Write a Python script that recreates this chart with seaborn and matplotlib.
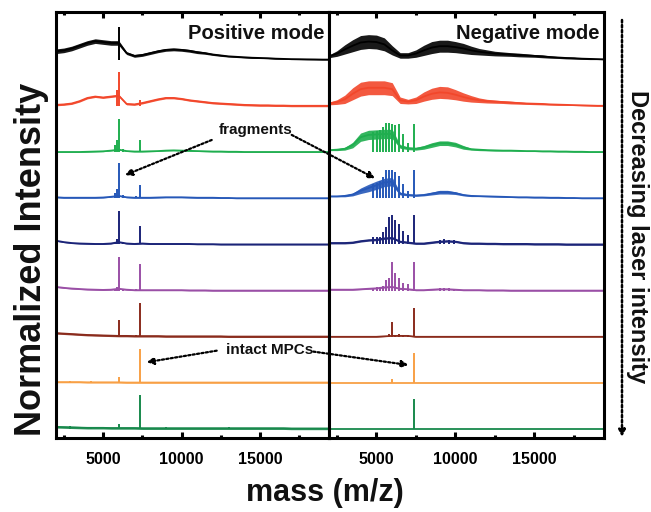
import numpy as np
import pandas as pd
import matplotlib
matplotlib.use("Agg")
import matplotlib.pyplot as plt
import seaborn as sns
from matplotlib.patches import ConnectionPatch
from matplotlib.ticker import FixedLocator

sns.set_theme(style="white")
plt.rcParams["font.family"] = ["Liberation Sans", "DejaVu Sans"]
plt.rcParams["font.weight"] = "bold"

# ---------------------------------------------------------------------------
# Spectra, top (highest laser intensity) to bottom (lowest laser intensity)
# ---------------------------------------------------------------------------
TRACES = ["L9", "L8", "L7", "L6", "L5", "L4", "L3", "L2", "L1"]
COLORS = ["#000000", "#f2472b", "#1fae4f", "#2658b8", "#1b2478",
          "#9a4fa6", "#8a2b1c", "#f8a045", "#18894c"]

# m/z sampling of the smooth background envelopes
MASS_GRID = [2000, 2500, 3000, 3500, 4000, 4500, 5000, 5500, 6000, 6500,
             7000, 7500, 8000, 8500, 9000, 9500, 10000, 10500, 11000, 11500,
             12000, 12500, 13000, 13500, 14000, 14500, 15000, 15500, 16000,
             16500, 17000, 17500, 18000, 18500, 19000, 19500]

# ---- positive mode: background envelopes ----
POS_L9 = [0.18, 0.20, 0.24, 0.30, 0.36, 0.40, 0.38, 0.36, 0.36, 0.14, 0.08, 0.10,
          0.14, 0.18, 0.21, 0.22, 0.21, 0.19, 0.16, 0.14, 0.11, 0.09, 0.07, 0.06,
          0.05, 0.04, 0.035, 0.03, 0.02, 0.015, 0.01, 0.008, 0.005, 0.003, 0.0, 0.0]
POS_L8 = [0.02, 0.03, 0.05, 0.10, 0.17, 0.20, 0.18, 0.20, 0.22, 0.04, 0.03, 0.06,
          0.10, 0.14, 0.17, 0.17, 0.15, 0.12, 0.10, 0.08, 0.06, 0.05, 0.04, 0.03,
          0.02, 0.015, 0.01, 0.01, 0.005, 0.005, 0.0, 0.0, 0.0, 0.0, 0.0, 0.0]
POS_L7 = [0.0, 0.0, 0.0, 0.0, 0.005, 0.01, 0.015, 0.03, 0.05, 0.02, 0.01, 0.01,
          0.015, 0.02, 0.03, 0.035, 0.03, 0.025, 0.02, 0.015, 0.01, 0.01, 0.005, 0.005,
          0.0, 0.0, 0.0, 0.0, 0.0, 0.0, 0.0, 0.0, 0.0, 0.0, 0.0, 0.0]
POS_L6 = [0.02, 0.01, 0.01, 0.01, 0.01, 0.01, 0.015, 0.03, 0.05, 0.02, 0.01, 0.01,
          0.01, 0.015, 0.02, 0.02, 0.02, 0.015, 0.01, 0.01, 0.01, 0.005, 0.005, 0.0,
          0.0, 0.0, 0.0, 0.0, 0.0, 0.0, 0.0, 0.0, 0.0, 0.0, 0.0, 0.0]
POS_L5 = [0.08, 0.05, 0.03, 0.02, 0.015, 0.01, 0.01, 0.02, 0.05, 0.02, 0.01, 0.02,
          0.01, 0.01, 0.01, 0.01, 0.01, 0.01, 0.005, 0.005, 0.005, 0.0, 0.0, 0.0,
          0.0, 0.0, 0.0, 0.0, 0.0, 0.0, 0.0, 0.0, 0.0, 0.0, 0.0, 0.0]
POS_L4 = [0.08, 0.06, 0.045, 0.035, 0.025, 0.02, 0.015, 0.02, 0.04, 0.02, 0.01, 0.01,
          0.01, 0.01, 0.01, 0.01, 0.01, 0.005, 0.005, 0.005, 0.0, 0.0, 0.0, 0.0,
          0.0, 0.0, 0.0, 0.0, 0.0, 0.0, 0.0, 0.0, 0.0, 0.0, 0.0, 0.0]
POS_L3 = [0.08, 0.07, 0.06, 0.05, 0.04, 0.035, 0.03, 0.025, 0.02, 0.02, 0.015, 0.015,
          0.015, 0.015, 0.01, 0.01, 0.01, 0.01, 0.01, 0.01, 0.01, 0.01, 0.005, 0.005,
          0.005, 0.005, 0.005, 0.005, 0.005, 0.005, 0.005, 0.005, 0.005, 0.005, 0.005, 0.005]
POS_L2 = [0.02, 0.02, 0.02, 0.02, 0.015, 0.015, 0.015, 0.015, 0.015, 0.01, 0.01, 0.01,
          0.01, 0.01, 0.01, 0.01, 0.01, 0.01, 0.01, 0.01, 0.01, 0.01, 0.01, 0.01,
          0.01, 0.01, 0.01, 0.01, 0.01, 0.01, 0.01, 0.01, 0.01, 0.01, 0.01, 0.01]
POS_L1 = [0.05, 0.045, 0.04, 0.035, 0.03, 0.03, 0.03, 0.025, 0.025, 0.025, 0.025, 0.02,
          0.02, 0.02, 0.02, 0.02, 0.02, 0.02, 0.02, 0.02, 0.02, 0.02, 0.02, 0.02,
          0.02, 0.02, 0.02, 0.02, 0.02, 0.02, 0.015, 0.015, 0.015, 0.015, 0.015, 0.015]

# ---- negative mode: background envelopes ----
NEG_L9 = [0.07, 0.13, 0.22, 0.30, 0.37, 0.39, 0.38, 0.33, 0.20, 0.09, 0.09, 0.13,
          0.20, 0.26, 0.29, 0.29, 0.27, 0.24, 0.20, 0.17, 0.15, 0.13, 0.12, 0.11,
          0.10, 0.09, 0.08, 0.07, 0.055, 0.045, 0.035, 0.03, 0.02, 0.015, 0.01, 0.005]
NEG_L8 = [0.05, 0.08, 0.14, 0.26, 0.36, 0.39, 0.39, 0.39, 0.36, 0.12, 0.09, 0.12,
          0.20, 0.26, 0.29, 0.28, 0.24, 0.19, 0.15, 0.12, 0.10, 0.09, 0.08, 0.07,
          0.06, 0.05, 0.045, 0.04, 0.03, 0.025, 0.02, 0.015, 0.01, 0.005, 0.0, 0.0]
NEG_L7 = [0.04, 0.05, 0.07, 0.15, 0.32, 0.37, 0.38, 0.39, 0.39, 0.12, 0.08, 0.07,
          0.10, 0.15, 0.19, 0.19, 0.16, 0.10, 0.06, 0.05, 0.04, 0.035, 0.03, 0.03,
          0.025, 0.02, 0.02, 0.015, 0.015, 0.01, 0.01, 0.005, 0.005, 0.0, 0.0, 0.0]
NEG_L6 = [0.04, 0.04, 0.05, 0.08, 0.16, 0.22, 0.28, 0.34, 0.36, 0.10, 0.07, 0.06,
          0.07, 0.10, 0.13, 0.13, 0.11, 0.07, 0.05, 0.045, 0.04, 0.035, 0.03, 0.025,
          0.02, 0.02, 0.015, 0.015, 0.01, 0.01, 0.005, 0.005, 0.0, 0.0, 0.0, 0.0]
NEG_L5 = [0.03, 0.03, 0.03, 0.04, 0.07, 0.09, 0.10, 0.13, 0.14, 0.06, 0.04, 0.02,
          0.02, 0.04, 0.06, 0.07, 0.06, 0.03, 0.02, 0.02, 0.015, 0.015, 0.01, 0.01,
          0.01, 0.01, 0.005, 0.005, 0.005, 0.005, 0.0, 0.0, 0.0, 0.0, 0.0, 0.0]
NEG_L4 = [0.02, 0.02, 0.02, 0.02, 0.03, 0.04, 0.05, 0.07, 0.08, 0.04, 0.03, 0.01,
          0.01, 0.02, 0.03, 0.03, 0.02, 0.01, 0.01, 0.01, 0.005, 0.005, 0.005, 0.0,
          0.0, 0.0, 0.0, 0.0, 0.0, 0.0, 0.0, 0.0, 0.0, 0.0, 0.0, 0.0]
NEG_L3 = [0.0, 0.0, 0.0, 0.0, 0.0, 0.0, 0.0, 0.01, 0.02, 0.02, 0.02, 0.0,
          0.0, 0.0, 0.0, 0.0, 0.0, 0.0, 0.0, 0.0, 0.0, 0.0, 0.0, 0.0,
          0.0, 0.0, 0.0, 0.0, 0.0, 0.0, 0.0, 0.0, 0.0, 0.0, 0.0, 0.0]
NEG_L2 = [0.0] * len(MASS_GRID)
NEG_L1 = [0.0] * len(MASS_GRID)

# ---- half-width of the unresolved ripple band around each envelope ----
POS_L9_BAND = [0.05, 0.05, 0.05, 0.05, 0.05, 0.05, 0.05, 0.05, 0.05, 0.03, 0.03, 0.03,
               0.03, 0.03, 0.03, 0.03, 0.03, 0.03, 0.03, 0.025, 0.02, 0.02, 0.015, 0.015,
               0.015, 0.015, 0.012, 0.012, 0.012, 0.01, 0.01, 0.01, 0.01, 0.01, 0.01, 0.01]
NEG_L9_BAND = [0.03, 0.06, 0.10, 0.13, 0.15, 0.15, 0.15, 0.14, 0.10, 0.06, 0.06, 0.08,
               0.11, 0.13, 0.13, 0.13, 0.12, 0.11, 0.09, 0.07, 0.06, 0.05, 0.045, 0.04,
               0.04, 0.035, 0.03, 0.03, 0.025, 0.02, 0.02, 0.02, 0.015, 0.015, 0.01, 0.01]
NEG_L8_BAND = [0.03, 0.05, 0.09, 0.13, 0.15, 0.15, 0.15, 0.15, 0.14, 0.07, 0.05, 0.07,
               0.10, 0.12, 0.13, 0.13, 0.11, 0.09, 0.07, 0.05, 0.04, 0.035, 0.03, 0.03,
               0.025, 0.02, 0.02, 0.02, 0.015, 0.015, 0.01, 0.01, 0.01, 0.01, 0.01, 0.01]
NEG_L7_BAND = [0.01, 0.02, 0.03, 0.06, 0.09, 0.10, 0.10, 0.10, 0.10, 0.04, 0.03, 0.03,
               0.04, 0.05, 0.05, 0.05, 0.05, 0.04, 0.02, 0.02, 0.015, 0.015, 0.01, 0.01,
               0.01, 0.01, 0.01, 0.01, 0.01, 0.01, 0.01, 0.01, 0.01, 0.01, 0.01, 0.01]
NEG_L6_BAND = [0.01, 0.01, 0.02, 0.03, 0.06, 0.08, 0.09, 0.09, 0.09, 0.03, 0.02, 0.02,
               0.02, 0.03, 0.04, 0.04, 0.03, 0.02, 0.015, 0.01, 0.01, 0.01, 0.01, 0.01,
               0.01, 0.01, 0.01, 0.01, 0.01, 0.01, 0.01, 0.01, 0.01, 0.01, 0.01, 0.01]
POS_BAND_OTHER = [0.0, 0.02, 0.008, 0.01, 0.012, 0.012, 0.02, 0.015, 0.025]
NEG_BAND_OTHER = [0.0, 0.0, 0.0, 0.0, 0.02, 0.012, 0.005, 0.0, 0.0]

# ---- sharp peaks (fragments and intact clusters) ----
POS_PEAK_MZ = [2900, 4200, 5750, 5880, 6030, 6300, 7100, 7370, 9000, 13000]
POS_PEAK_L9 = [0, 0, 0, 0, 0.71, 0, 0, 0, 0, 0]
POS_PEAK_L8 = [0, 0, 0, 0.35, 0.74, 0, 0, 0.13, 0, 0]
POS_PEAK_L7 = [0, 0, 0.15, 0.25, 0.72, 0.06, 0, 0.25, 0, 0]
POS_PEAK_L6 = [0, 0, 0.12, 0.20, 0.76, 0.06, 0.04, 0.28, 0, 0]
POS_PEAK_L5 = [0, 0, 0.06, 0.12, 0.73, 0.05, 0.04, 0.40, 0, 0]
POS_PEAK_L4 = [0, 0, 0.04, 0.08, 0.73, 0.03, 0.03, 0.57, 0, 0]
POS_PEAK_L3 = [0, 0, 0, 0.03, 0.37, 0, 0.03, 0.73, 0, 0]
POS_PEAK_L2 = [0.04, 0.04, 0, 0, 0.14, 0, 0, 0.73, 0.03, 0.03]
POS_PEAK_L1 = [0.06, 0.05, 0, 0, 0.12, 0, 0, 0.73, 0.04, 0.04]

NEG_PEAK_MZ = [4800, 5030, 5230, 5430, 5630, 5820, 6000, 6200, 6440, 6710, 6980, 7370,
               9000, 9300, 9600, 9900]
NEG_PEAK_L9 = [0] * 16
NEG_PEAK_L8 = [0] * 16
NEG_PEAK_L7 = [0.43, 0.45, 0.47, 0.55, 0.62, 0.63, 0.60, 0.58, 0.60, 0.38, 0.20, 0.61,
               0, 0, 0, 0]
NEG_PEAK_L6 = [0.30, 0.33, 0.38, 0.45, 0.60, 0.62, 0.60, 0.56, 0.49, 0.31, 0.15, 0.61,
               0, 0, 0, 0]
NEG_PEAK_L5 = [0.15, 0.15, 0.17, 0.27, 0.38, 0.59, 0.63, 0.52, 0.45, 0.28, 0.20, 0.63,
               0.10, 0.11, 0.10, 0.09]
NEG_PEAK_L4 = [0.05, 0.07, 0.08, 0.10, 0.23, 0.28, 0.63, 0.39, 0.27, 0.16, 0.14, 0.63,
               0.05, 0.05, 0.05, 0.04]
NEG_PEAK_L3 = [0, 0, 0, 0, 0, 0.06, 0.31, 0.05, 0.06, 0.05, 0.05, 0.63, 0, 0, 0, 0]
NEG_PEAK_L2 = [0, 0, 0, 0, 0, 0, 0.08, 0, 0, 0, 0, 0.65, 0, 0, 0, 0]
NEG_PEAK_L1 = [0, 0, 0, 0, 0, 0, 0, 0, 0, 0, 0, 0.65, 0, 0, 0, 0]

POS_ENV = [POS_L9, POS_L8, POS_L7, POS_L6, POS_L5, POS_L4, POS_L3, POS_L2, POS_L1]
NEG_ENV = [NEG_L9, NEG_L8, NEG_L7, NEG_L6, NEG_L5, NEG_L4, NEG_L3, NEG_L2, NEG_L1]
POS_PEAKS = [POS_PEAK_L9, POS_PEAK_L8, POS_PEAK_L7, POS_PEAK_L6, POS_PEAK_L5,
             POS_PEAK_L4, POS_PEAK_L3, POS_PEAK_L2, POS_PEAK_L1]
NEG_PEAKS = [NEG_PEAK_L9, NEG_PEAK_L8, NEG_PEAK_L7, NEG_PEAK_L6, NEG_PEAK_L5,
             NEG_PEAK_L4, NEG_PEAK_L3, NEG_PEAK_L2, NEG_PEAK_L1]
POS_BANDS = {0: POS_L9_BAND}
NEG_BANDS = {0: NEG_L9_BAND, 1: NEG_L8_BAND, 2: NEG_L7_BAND, 3: NEG_L6_BAND}

X_TICKS = [5000, 10000, 15000]
X_MINOR = [2500, 7500, 12500, 17500]
X_LIM = (2000, 19400)
Y_LIM = (-0.19, 9.03)
LW = 1.3

# long table: one row per envelope sample, stacked with a unit offset per trace
rows = []
for mode, envs in (("Positive", POS_ENV), ("Negative", NEG_ENV)):
    for i, (name, env) in enumerate(zip(TRACES, envs)):
        off = len(TRACES) - 1 - i
        for m, v in zip(MASS_GRID, env):
            rows.append({"mode": mode, "trace": name, "mass": m,
                         "intensity": v, "y": v + off})
df = pd.DataFrame(rows)
palette = dict(zip(TRACES, COLORS))

fig = plt.figure(figsize=(6.51, 5.12), dpi=100)
W, H = 651, 512
ax1 = fig.add_axes([56 / W, 74 / H, 273 / W, 426 / H])
ax2 = fig.add_axes([329 / W, 74 / H, 275 / W, 426 / H])

panels = [(ax1, "Positive", POS_PEAK_MZ, POS_PEAKS, POS_BANDS, POS_BAND_OTHER, "Positive mode"),
          (ax2, "Negative", NEG_PEAK_MZ, NEG_PEAKS, NEG_BANDS, NEG_BAND_OTHER, "Negative mode")]

for ax, mode, pk_mz, pk_list, bands, band_other, title in panels:
    sub = df[df["mode"] == mode]
    # ripple bands behind each envelope
    for i, name in enumerate(TRACES):
        off = len(TRACES) - 1 - i
        env = np.asarray(sub[sub["trace"] == name]["intensity"])
        band = np.asarray(bands[i]) if i in bands else np.full(len(env), band_other[i])
        if band.max() > 0:
            ax.fill_between(MASS_GRID, off + env - band, off + env + band,
                            color=COLORS[i], lw=0, alpha=0.9)
    sns.lineplot(data=sub, x="mass", y="y", hue="trace", palette=palette,
                 estimator=None, legend=False, lw=LW, ax=ax)
    # sharp peaks
    for i, heights in enumerate(pk_list):
        off = len(TRACES) - 1 - i
        mz = [m for m, h in zip(pk_mz, heights) if h > 0]
        hh = [h for h in heights if h > 0]
        if mz:
            ax.vlines(mz, off, [off + h for h in hh], color=COLORS[i], lw=LW + 0.1)

    ax.set_xlim(*X_LIM)
    ax.set_ylim(*Y_LIM)
    ax.set_xlabel("")
    ax.set_ylabel("")
    ax.set_yticks([])
    ax.xaxis.set_major_locator(FixedLocator(X_TICKS))
    ax.xaxis.set_minor_locator(FixedLocator(X_MINOR))
    ax.tick_params(axis="x", which="both", direction="in", top=True, bottom=True,
                   colors="black", width=2.2, labelsize=11.5, pad=10)
    ax.tick_params(axis="x", which="major", length=4.5)
    ax.tick_params(axis="x", which="minor", length=2.5)
    for lab in ax.get_xticklabels():
        lab.set_fontweight("bold")
    for sp in ax.spines.values():
        sp.set_visible(True)
        sp.set_color("black")
        sp.set_linewidth(2.2)
    ax.text(0.985, 0.95, title, transform=ax.transAxes, ha="right", va="center",
            fontsize=14.5, fontweight="bold", color="#111111")

# annotations
ax1.text(14750, 6.48, "fragments", ha="center", va="center", fontsize=11,
         fontweight="bold", color="#111111")
ax1.text(15640, 1.71, "intact MPCs", ha="center", va="center", fontsize=11,
         fontweight="bold", color="#111111")

arrow_kw = dict(arrowstyle="-|>", linestyle=(0, (1, 1)), lw=1.6, color="black",
                mutation_scale=10)
for (xa, ya), (xb, yb), axb in [((11924, 6.26), (6398, 5.50), ax1),
                                ((17022, 6.37), (4915, 5.43), ax2),
                                ((12242, 1.70), (7781, 1.45), ax1),
                                ((18399, 1.68), (7025, 1.39), ax2)]:
    cp = ConnectionPatch(xyA=(xa, ya), coordsA=ax1.transData,
                         xyB=(xb, yb), coordsB=axb.transData, **arrow_kw)
    cp.set_zorder(5)
    fig.add_artist(cp)

# laser-intensity arrow on the right
fig.add_artist(ConnectionPatch(xyA=(622, H - 20), coordsA="figure pixels",
                               xyB=(622, H - 437), coordsB="figure pixels",
                               arrowstyle="-|>", linestyle=(0, (1, 1)), lw=1.8,
                               color="black", mutation_scale=10))
fig.text(638 / W, 1 - 237 / H, "Decreasing laser intensity", rotation=-90,
         ha="center", va="center", fontsize=17, fontweight="bold", color="#111111")

fig.text(32 / W, 1 - 259 / H, "Normalized Intensity", rotation=90, ha="center",
         va="center", fontsize=26, fontweight="bold", color="#111111")
fig.text(325 / W, 1 - 493 / H, "mass (m/z)", ha="center", va="center",
         fontsize=22, fontweight="bold", color="#111111")

fig.savefig("out.png", dpi=100, facecolor="white")
